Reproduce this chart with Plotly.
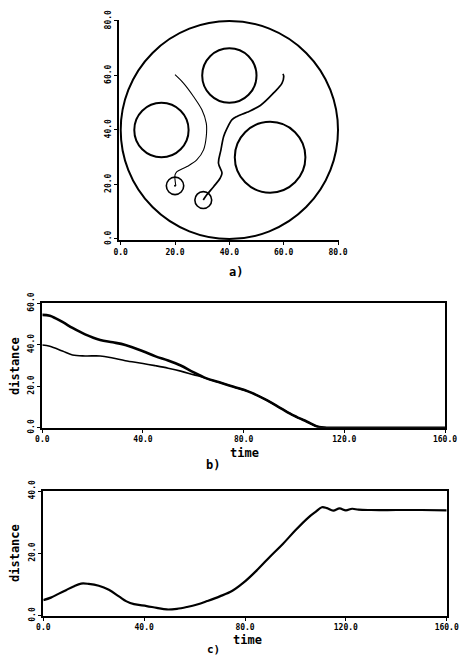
import plotly.graph_objects as go

# ---------------- data ----------------
# panel a: workspace (circle centres and radii)
wall_x, wall_y, wall_r = [40.0], [40.0], [40.0]
obst_x = [40.0, 15.0, 55.0]
obst_y = [60.0, 40.0, 30.0]
obst_r = [10.0, 10.0, 13.0]
robot_x = [20.0, 30.4]
robot_y = [19.5, 14.3]
robot_r = [3.2, 3.1]

path1_x = [20.0, 23.1, 26.8, 29.9, 31.5, 31.5, 30.5, 28.0, 24.4, 20.7, 20.0, 20.3]
path1_y = [60.3, 57.2, 52.3, 47.4, 42.5, 37.6, 32.7, 29.0, 26.6, 24.7, 23.5, 19.5]

path2_x = [59.7, 60.0, 59.4, 56.3, 51.4, 46.5, 42.8, 41.0, 39.1, 37.9, 36.9, 36.0, 37.3, 36.6, 34.2, 31.7, 30.4]
path2_y = [60.6, 59.9, 57.2, 53.6, 49.0, 46.5, 45.0, 43.8, 40.5, 37.6, 32.7, 27.8, 24.2, 22.3, 19.2, 16.2, 14.3]

# panel b: distances to goal vs time
t_b = [0, 3, 8, 12, 17, 23, 28, 33, 40, 45, 50, 55, 60, 65, 70, 76, 82, 89, 95, 100, 105, 110, 120, 140, 160]
dist_b1 = [54.4, 54.0, 51.0, 48.1, 45.0, 42.3, 41.2, 39.9, 36.9, 34.4, 32.4, 30.0, 26.8, 23.9, 22.0, 19.7,
           17.4, 13.4, 9.2, 5.8, 3.0, 0.3, 0.0, 0.0, 0.0]
dist_b2 = [39.9, 39.3, 37.0, 35.1, 34.6, 34.6, 33.6, 32.3, 31.0, 29.9, 28.7, 27.3, 25.6, 23.9, 22.0, 19.7,
           17.4, 13.4, 9.2, 5.8, 3.0, 0.3, 0.0, 0.0, 0.0]

# panel c: distance between robots vs time
t_c = [0, 3, 6, 9, 12, 15, 18, 22, 26, 30, 33, 36, 41, 45, 49, 53, 57, 61, 65, 70, 75, 80, 85, 90, 95,
       100, 105, 108, 110.5, 112.5, 115, 117.5, 120, 122.5, 125, 130, 140, 150, 160]
dist_c = [5.0, 5.8, 7.0, 8.2, 9.4, 10.3, 10.2, 9.6, 8.3, 6.2, 4.6, 3.7, 3.1, 2.5, 2.0, 2.2, 2.8, 3.6, 4.7,
          6.2, 8.0, 11.0, 14.8, 19.0, 23.0, 27.4, 31.4, 33.3, 34.8, 34.5, 33.7, 34.4, 33.8, 34.3, 34.0,
          33.9, 33.9, 33.9, 33.8]

ticks_a = [0, 20, 40, 60, 80]
ticks_bx = [0, 40, 80, 120, 160]
ticks_by = [0, 20, 40, 60]
ticks_cy = [0, 20, 40]

# ---------------- layout helpers ----------------
W, H = 466, 657
FONT = "DejaVu Sans Mono"
tickfont = dict(family=FONT, size=8, color="black", weight="bold")
labfont = dict(family=FONT, size=12, color="black", weight="bold")


def xd(p0, p1):
    return [p0 / W, p1 / W]


def yd(top, bottom):
    return [1 - bottom / H, 1 - top / H]


pad = 0.5
# panel a pixels: data 0 -> 120.7, 80 -> 338 (x) ; 0 -> 239, 80 -> 21 (y)
sx = (338 - 120.7) / 80
sy = (239 - 21) / 80
ax_dom_x = xd(120.7 - pad * sx, 338 + pad * sx)
ax_dom_y = yd(21 - pad * sy, 239 + pad * sy)

fig = go.Figure()

# paths
fig.add_trace(go.Scatter(x=path1_x, y=path1_y, mode="lines", line=dict(color="black", width=1.1, shape="spline"),
                         xaxis="x", yaxis="y", showlegend=False, hoverinfo="skip"))
fig.add_trace(go.Scatter(x=path2_x, y=path2_y, mode="lines", line=dict(color="black", width=1.7, shape="spline"),
                         xaxis="x", yaxis="y", showlegend=False, hoverinfo="skip"))
# small centre dot of robot 1
fig.add_trace(go.Scatter(x=robot_x[:1], y=robot_y[:1], mode="markers", marker=dict(color="black", size=2),
                         xaxis="x", yaxis="y", showlegend=False, hoverinfo="skip"))

shapes = []
for cx, cy, r, w in ([(a, b, c, 2.0) for a, b, c in zip(wall_x, wall_y, wall_r)]
                     + [(a, b, c, 2.0) for a, b, c in zip(obst_x, obst_y, obst_r)]
                     + [(a, b, c, 1.6) for a, b, c in zip(robot_x, robot_y, robot_r)]):
    shapes.append(dict(type="circle", xref="x", yref="y", x0=cx - r, x1=cx + r, y0=cy - r, y1=cy + r,
                       line=dict(color="black", width=w)))

# panel b
fig.add_trace(go.Scatter(x=t_b, y=dist_b1, mode="lines", line=dict(color="black", width=2.6, shape="spline"),
                         xaxis="x2", yaxis="y2", showlegend=False, hoverinfo="skip"))
fig.add_trace(go.Scatter(x=t_b, y=dist_b2, mode="lines", line=dict(color="black", width=1.6, shape="spline"),
                         xaxis="x2", yaxis="y2", showlegend=False, hoverinfo="skip"))

# panel c
fig.add_trace(go.Scatter(x=t_c, y=dist_c, mode="lines", line=dict(color="black", width=2.2, shape="spline"),
                         xaxis="x3", yaxis="y3", showlegend=False, hoverinfo="skip"))

common = dict(showgrid=False, zeroline=False, showline=True, linecolor="black", linewidth=2,
              ticks="outside", ticklen=3, tickwidth=1, tickcolor="black", tickfont=tickfont,
              tickformat=".1f", fixedrange=True, automargin=False)

fig.update_layout(
    width=W, height=H, margin=dict(l=0, r=0, t=0, b=0, pad=0, autoexpand=False),
    paper_bgcolor="white", plot_bgcolor="white",
    shapes=shapes,
    xaxis=dict(domain=ax_dom_x, range=[-pad, 80 + pad], tickvals=ticks_a, anchor="y", **common),
    yaxis=dict(domain=ax_dom_y, range=[-pad, 80 + pad], tickvals=ticks_a, anchor="x", tickangle=-90, **common),
    xaxis2=dict(domain=xd(42.3, 445), range=[0, 160], tickvals=ticks_bx, anchor="y2", mirror=True, **common),
    yaxis2=dict(domain=yd(303.3, 427.7), range=[0, 60], tickvals=ticks_by, anchor="x2", mirror=True,
                tickangle=-90, **common),
    xaxis3=dict(domain=xd(43.3, 446.7), range=[0, 160], tickvals=ticks_bx, anchor="y3", mirror=True, **common),
    yaxis3=dict(domain=yd(491, 615.7), range=[0, 40], tickvals=ticks_cy, anchor="x3", mirror=True,
                tickangle=-90, **common),
)

ann = [
    ("a)", 236, 272, 0, 12),
    ("time", 245, 453, 0, 12),
    ("b)", 213, 465, 0, 12),
    ("distance", 15, 366, -90, 12),
    ("time", 247, 640, 0, 12),
    ("c)", 213, 649, 0, 11),
    ("distance", 15, 553, -90, 12),
]
for txt, px, py, ang, fs in ann:
    fig.add_annotation(text=txt, x=px / W, y=1 - py / H, xref="paper", yref="paper", showarrow=False,
                       font=dict(labfont, size=fs), textangle=ang, xanchor="center", yanchor="middle")

fig.write_html(
    "out.html",
    config={"displayModeBar": False, "staticPlot": True},
    post_script="document.body.style.margin='0';document.body.style.padding='0';"
                "document.documentElement.style.overflow='hidden';",
)
